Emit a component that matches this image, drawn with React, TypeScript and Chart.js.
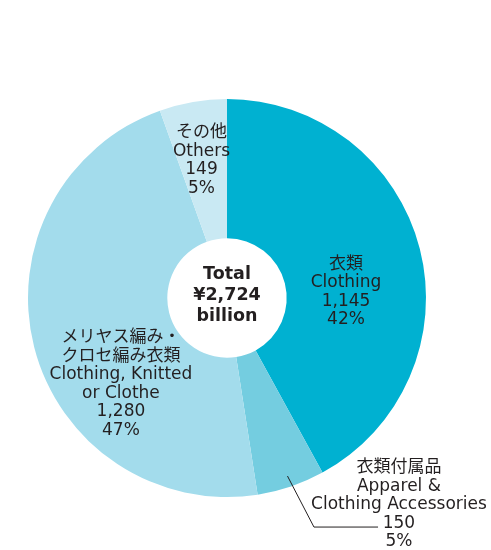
import React, { useEffect, useRef } from "react";
import { Chart, registerables } from "chart.js";

Chart.register(...registerables);

const categoriesJa = ["衣類", "衣類付属品", "メリヤス編み・\nクロセ編み衣類", "その他"];
const categoriesEn = ["Clothing", "Apparel &\nClothing Accessories", "Clothing, Knitted\nor Clothe", "Others"];
const values = [1145, 150, 1280, 149];
const percentLabels = ["42%", "5%", "47%", "5%"];
const totalLines = ["Total", "¥2,724", "billion"];

const colors = ["#00b1d1", "#74cde0", "#a3dcec", "#c9e9f3"];

// label block centres, as fractions of outer radius relative to the chart centre
const labelAnchors = [
  [0.598, -0.03],
  [0.864, 1.04],
  [-0.533, 0.433],
  [-0.128, -0.69],
];

const FONT = '"DejaVu Sans", "Noto Sans CJK JP", sans-serif';
const TEXT_COLOR = "#231f20";

const labelPlugin = {
  id: "customLabels",
  afterDraw(chart: any) {
    const ctx = chart.ctx;
    const meta = chart.getDatasetMeta(0);
    const arc0 = meta.data[0] as any;
    const cx = arc0.x;
    const cy = arc0.y;
    const R = arc0.outerRadius;
    ctx.save();
    ctx.fillStyle = TEXT_COLOR;
    ctx.textAlign = "center";
    ctx.textBaseline = "middle";

    // slice labels
    const lh = 18.5;
    values.forEach((v, i) => {
      const lines = [
        ...categoriesJa[i].split("\n"),
        ...categoriesEn[i].split("\n"),
        v.toLocaleString("en-US"),
        percentLabels[i],
      ];
      const [fx, fy] = labelAnchors[i];
      const x = cx + fx * R;
      const yMid = cy + fy * R;
      const y0 = yMid - ((lines.length - 1) * lh) / 2;
      ctx.font = `17px ${FONT}`;
      lines.forEach((t, k) => ctx.fillText(t, x, y0 + k * lh));
    });

    // leader line for the small accessory slice
    const a = meta.data[1] as any;
    const mid = (a.startAngle + a.endAngle) / 2;
    const sx = cx + Math.cos(mid) * R * 0.945;
    const sy = cy + Math.sin(mid) * R * 0.945;
    ctx.beginPath();
    ctx.strokeStyle = "#231f20";
    ctx.lineWidth = 1;
    ctx.moveTo(sx, sy);
    ctx.lineTo(cx + 0.437 * R, cy + 1.151 * R);
    ctx.lineTo(cx + 0.759 * R, cy + 1.151 * R);
    ctx.stroke();

    // centre total
    ctx.font = `bold 17.5px ${FONT}`;
    const tl = 21;
    totalLines.forEach((t, k) => ctx.fillText(t, cx, cy - tl - 3 + k * tl));
    ctx.restore();
  },
};

export default function App() {
  const ref = useRef<HTMLCanvasElement>(null);
  useEffect(() => {
    const chart = new Chart(ref.current!, {
      type: "doughnut",
      data: {
        labels: categoriesEn,
        datasets: [
          {
            data: values,
            backgroundColor: colors,
            borderWidth: 0,
          },
        ],
      },
      options: {
        responsive: false,
        animation: false,
        cutout: "30%",
        layout: { padding: { left: 28, right: 65, top: 99, bottom: 53 } },
        plugins: { legend: { display: false }, tooltip: { enabled: false } },
      },
      plugins: [labelPlugin],
    });
    return () => chart.destroy();
  }, []);
  return (
    <div style={{ position: "fixed", left: 0, top: 0, width: 491, height: 550, background: "#fff" }}>
      <canvas ref={ref} width={491} height={550} style={{ width: 491, height: 550 }} />
    </div>
  );
}
